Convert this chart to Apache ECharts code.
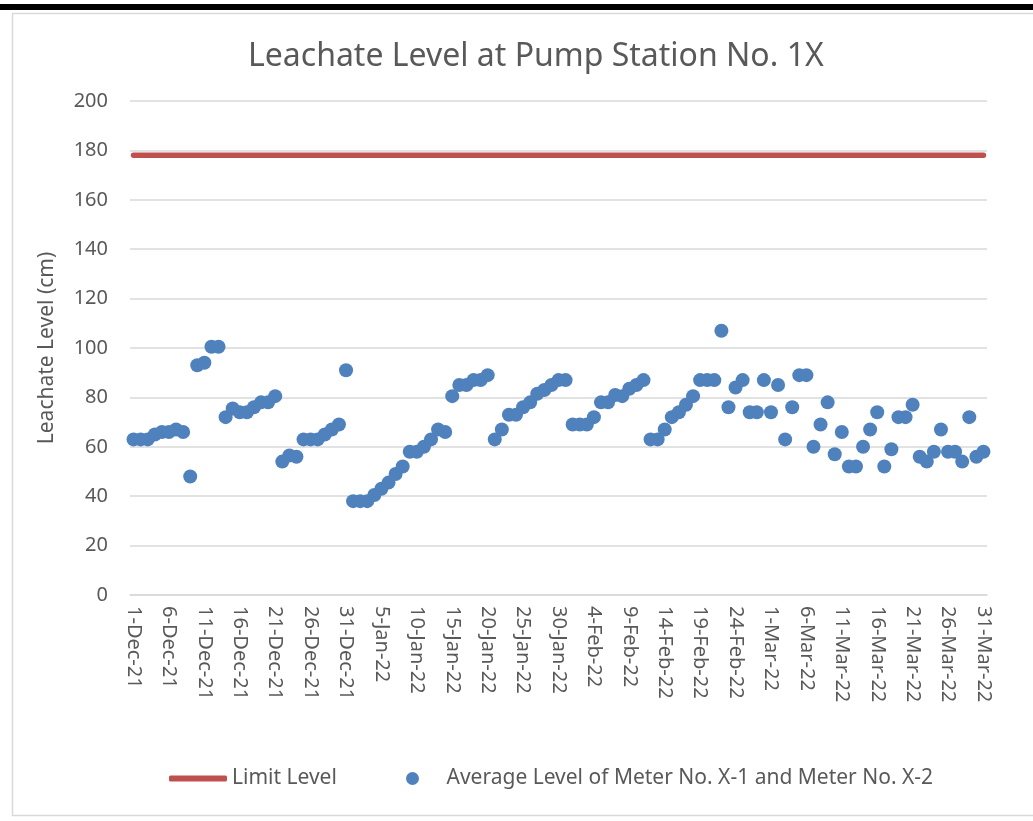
<!DOCTYPE html>
<html>
<head>
<meta charset="utf-8">
<script src="https://cdn.jsdelivr.net/npm/echarts@6/dist/echarts.min.js"></script>
<style>
  html, body { margin: 0; padding: 0; background: #ffffff; }
  #chart { width: 1033px; height: 821px; }
</style>
</head>
<body>
<div id="chart"></div>
<script>
// ---- Data ----
const titleText = 'Leachate Level at Pump Station No. 1X';
const yAxisName = 'Leachate Level (cm)';
const seriesNames = ['Limit Level', 'Average Level of Meter No. X-1 and Meter No. X-2'];
const startDate = '2021-12-01';
const dayCount = 121;            // 1-Dec-21 .. 31-Mar-22
const limitLevel = 178;
const yTicks = [0, 20, 40, 60, 80, 100, 120, 140, 160, 180, 200];
const averageLevel = [
  63, 63, 63, 65, 66, 66, 67, 66, 48, 93,
  94, 100.5, 100.5, 72, 75.5, 74, 74, 76, 78, 78,
  80.5, 54, 56.5, 56, 63, 63, 63, 65, 67, 69,
  91, 38, 38, 38, 40.5, 43, 45.5, 49, 52, 58,
  58, 60, 63, 67, 66, 80.5, 85, 85, 87, 87,
  89, 63, 67, 73, 73, 76, 78, 81.5, 83, 85,
  87, 87, 69, 69, 69, 72, 78, 78, 81, 80.5,
  83.5, 85, 87, 63, 63, 67, 72, 74, 77, 80.5,
  87, 87, 87, 107, 76, 84, 87, 74, 74, 87,
  74, 85, 63, 76, 89, 89, 60, 69, 78, 57,
  66, 52, 52, 60, 67, 74, 52, 59, 72, 72,
  77, 56, 54, 58, 67, 58, 58, 54, 72, 56,
  58
];

// ---- Category labels (d-Mon-yy) ----
const monthNames = ['Jan','Feb','Mar','Apr','May','Jun','Jul','Aug','Sep','Oct','Nov','Dec'];
const categories = [];
{
  const d0 = new Date(startDate + 'T00:00:00Z');
  for (let i = 0; i < dayCount; i++) {
    const d = new Date(d0.getTime() + i * 86400000);
    categories.push(d.getUTCDate() + '-' + monthNames[d.getUTCMonth()] + '-' + String(d.getUTCFullYear()).slice(2));
  }
}
const limitData = categories.map(() => limitLevel);

// ---- Chart ----
const FONT = 'Noto Sans';
const TXT = '#595959';
const RED = '#C0504D';
const BLUE = '#4F81BD';
const chart = echarts.init(document.getElementById('chart'), null, { renderer: 'canvas' });
chart.setOption({
  backgroundColor: '#ffffff',
  animation: false,
  textStyle: { fontFamily: FONT },
  graphic: [
    { type: 'rect', shape: { x: 0, y: 4, width: 1033, height: 6 }, style: { fill: '#000000' }, silent: true },
    { type: 'rect', shape: { x: 12.5, y: 13.5, width: 1040, height: 802 }, style: { fill: 'none', stroke: '#d9d9d9', lineWidth: 1.5 }, silent: true }
  ],
  title: {
    text: titleText,
    left: 243,
    top: 36,
    textStyle: { fontFamily: FONT, fontSize: 32, fontWeight: 'normal', color: TXT }
  },
  legend: [
    {
      left: 164,
      top: 763,
      itemWidth: 58,
      itemHeight: 6,
      textStyle: { fontFamily: FONT, fontSize: 21, color: TXT },
      data: [{ name: seriesNames[0], icon: 'roundRect', itemStyle: { color: RED } }]
    },
    {
      left: 401,
      top: 763,
      itemWidth: 58,
      itemHeight: 13,
      textStyle: { fontFamily: FONT, fontSize: 21, color: TXT },
      data: [{ name: seriesNames[1], icon: 'circle' }]
    }
  ],
  grid: { left: 130, right: 46, top: 101, bottom: 226, containLabel: false },
  xAxis: {
    type: 'category',
    data: categories,
    boundaryGap: true,
    axisLine: { lineStyle: { color: '#d9d9d9', width: 1.5 } },
    axisTick: { show: false },
    axisLabel: { interval: 4, rotate: -90, fontFamily: FONT, fontSize: 20, color: TXT, margin: 11 }
  },
  yAxis: {
    type: 'value',
    min: yTicks[0],
    max: yTicks[yTicks.length - 1],
    interval: yTicks[1] - yTicks[0],
    name: yAxisName,
    nameLocation: 'middle',
    nameGap: 72,
    nameTextStyle: { fontFamily: FONT, fontSize: 21, color: TXT },
    axisLine: { show: false },
    axisTick: { show: false },
    axisLabel: { fontFamily: FONT, fontSize: 20, color: TXT, margin: 22 },
    splitLine: { lineStyle: { color: '#d9d9d9', width: 1.5 } }
  },
  series: [
    {
      name: seriesNames[0],
      type: 'line',
      data: limitData,
      symbol: 'none',
      lineStyle: { color: RED, width: 5.5, cap: 'round' },
      itemStyle: { color: RED },
      z: 2
    },
    {
      name: seriesNames[1],
      type: 'scatter',
      data: averageLevel,
      symbol: 'circle',
      symbolSize: 14,
      itemStyle: { color: BLUE, opacity: 1 },
      z: 3
    }
  ]
});
</script>
</body>
</html>
